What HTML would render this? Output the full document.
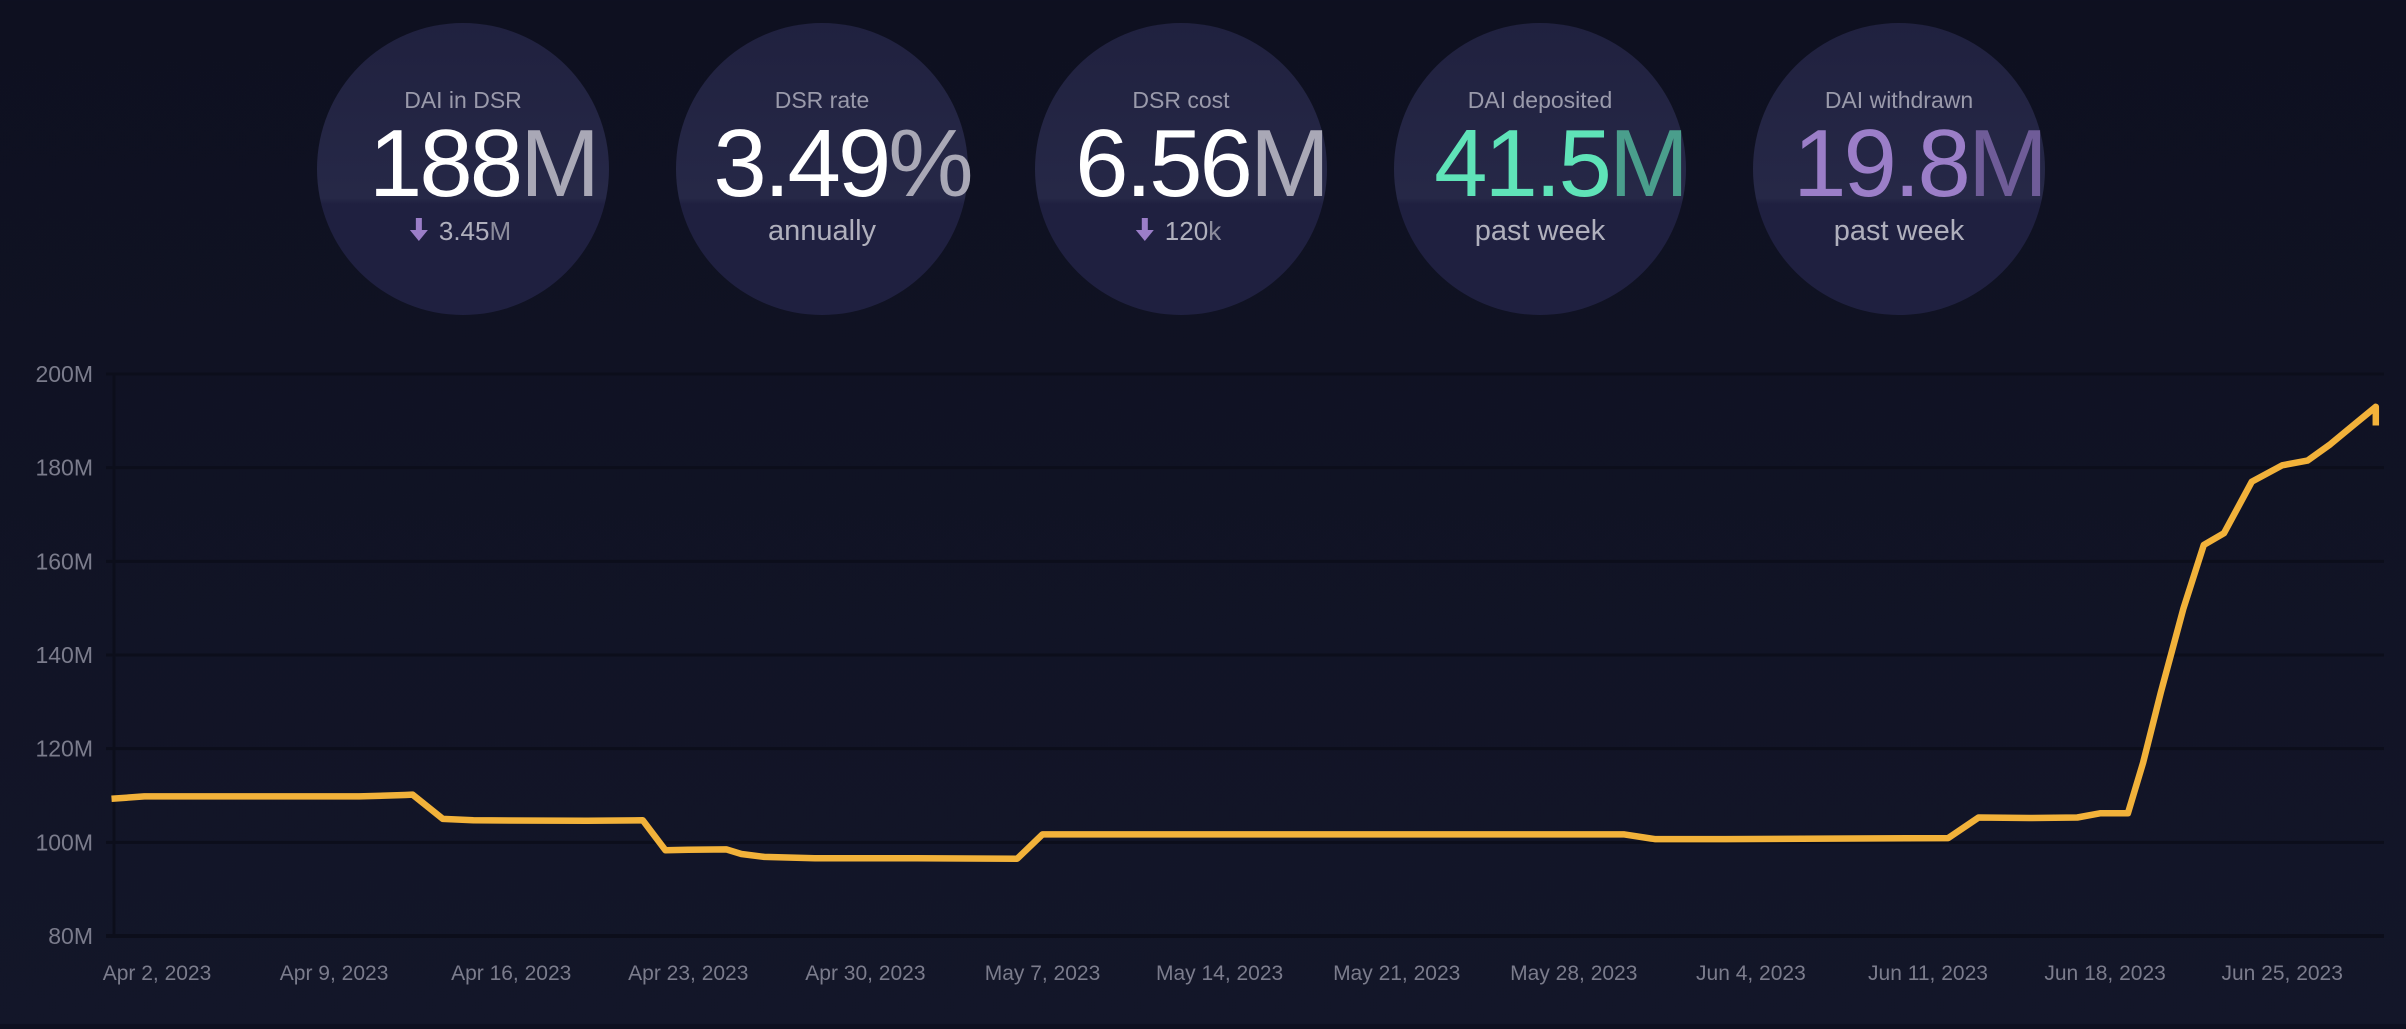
<!DOCTYPE html>
<html><head><meta charset="utf-8">
<style>
html,body{margin:0;padding:0;}
body{width:2406px;height:1024px;overflow:hidden;background:linear-gradient(#0e1020,#131629);font-family:"Liberation Sans",sans-serif;}
</style></head>
<body>
<svg width="2406" height="1024" viewBox="0 0 2406 1024" xmlns="http://www.w3.org/2000/svg">
<defs>
<linearGradient id="cg" x1="0" y1="0" x2="0" y2="1">
<stop offset="0" stop-color="#20213f"/><stop offset="0.6" stop-color="#262847"/><stop offset="0.62" stop-color="#1f2040"/><stop offset="1" stop-color="#1f2040"/>
</linearGradient>
</defs>
<g id="stats"></g>
<g id="chart"></g>
</svg>
<script>
const statLabels=["DAI in DSR","DSR rate","DSR cost","DAI deposited","DAI withdrawn"];
const statValues=["188","3.49","6.56","41.5","19.8"];
const statUnits=["M","%","M","M","M"];
const statSubs=["3.45","annually","120","past week","past week"];
const statSubUnits=["M","","k","",""];
const statArrows=[true,false,true,false,false];
const statColors=["#ffffff","#ffffff","#ffffff","#5fe3b8","#9b7ec8"];
const statUnitColors=["#a9a8b6","#a9a8b6","#a9a8b6","#4a9e8c","#6f5c98"];

const yTicks=[80,100,120,140,160,180,200];
const yTickLabels=["80M","100M","120M","140M","160M","180M","200M"];
const xTickDays=[0,7,14,21,28,35,42,49,56,63,70,77,84];
const xTickLabels=["Apr 2, 2023","Apr 9, 2023","Apr 16, 2023","Apr 23, 2023","Apr 30, 2023","May 7, 2023","May 14, 2023","May 21, 2023","May 28, 2023","Jun 4, 2023","Jun 11, 2023","Jun 18, 2023","Jun 25, 2023"];
// days since Apr 2, 2023
const seriesDays=[-1.8,-0.5,3,6,8,9.8,10.1,11.3,12.5,17,19.2,20.1,21,22.5,23.1,24,26,30,34,35,40,50,58,59.2,62,66,70.8,72,74,75.9,76.8,77.9,78.5,79.2,80.1,80.9,81.7,82.8,84,85,85.9,86.8,87.7,87.7];
const seriesValues=[109.3,109.8,109.8,109.8,109.8,110.1,110.2,105,104.7,104.6,104.7,98.3,98.4,98.5,97.5,96.9,96.6,96.6,96.5,101.7,101.7,101.7,101.7,100.7,100.7,100.8,100.9,105.3,105.2,105.3,106.2,106.2,117,132,150,163.5,166,177,180.5,181.5,185,189,193,189];

const NS="http://www.w3.org/2000/svg";
function mk(t,a,p){const e=document.createElementNS(NS,t);for(const k in a)e.setAttribute(k,a[k]);p.appendChild(e);return e;}

const stats=document.getElementById('stats');
const cx=[463,822,1181,1540,1899];
for(let i=0;i<statLabels.length;i++){
  const g=mk('g',{},stats);
  
  
  const c=mk('circle',{cx:cx[i],cy:169,r:146,fill:'url(#cg)'},g);
  
  
  const l=mk('text',{x:cx[i],y:108,'text-anchor':'middle','font-size':23,fill:'#9a9aab'},g);
  l.textContent=statLabels[i];
  
  
  const v=mk('text',{x:cx[i]+20,y:196,'text-anchor':'middle','font-size':96,fill:statColors[i],'letter-spacing':'-3'},g);
  
  
  const s1=mk('tspan',{},v);s1.textContent=statValues[i];
  const s2=mk('tspan',{fill:statUnitColors[i]},v);s2.textContent=statUnits[i];
  const sub=mk('text',{x:cx[i]+(statArrows[i]?12:0),y:240,'text-anchor':'middle','font-size':statArrows[i]?26:29,fill:'#b0b0bd'},g);
  
  
  const t1=mk('tspan',{},sub);t1.textContent=statSubs[i];
  if(statSubUnits[i]){const t2=mk('tspan',{fill:'#8c8c9c'},sub);t2.textContent=statSubUnits[i];}
  if(statArrows[i]){
    const bb=sub.getBBox();
    const ax=bb.x-20;
    const a=mk('path',{d:`M${ax-3},${218} h6 v12 h6 l-9,11 l-9,-11 h6 z`,fill:'#9b7ec8'},g);
    
    
  }
}

const chart=document.getElementById('chart');
const L=114,R=2384,T=374,B=936;
const x0=157,pxPerDay=25.3;
function xs(d){return x0+d*pxPerDay;}
function ys(v){return B-(v-80)/(200-80)*(B-T);}
for(let i=0;i<yTicks.length;i++){
  const y=ys(yTicks[i]);
  const gl=mk('line',{x1:L-8,x2:R,y1:y,y2:y,stroke:'#0c0e1b','stroke-width':i==0?4:3},chart);
  
  
  const tl=mk('text',{x:93,y:y+8,'text-anchor':'end','font-size':23,fill:'#7b7c8c'},chart);
  tl.textContent=yTickLabels[i];
  
  
}
const ax=mk('line',{x1:L,x2:L,y1:T,y2:B,stroke:'#0c0e1b','stroke-width':3},chart);


for(let i=0;i<xTickDays.length;i++){
  const t=mk('text',{x:xs(xTickDays[i]),y:980,'text-anchor':'middle','font-size':21,fill:'#7b7c8c'},chart);
  t.textContent=xTickLabels[i];
  
  
}
let d='';
for(let i=0;i<seriesDays.length;i++){d+=(i?'L':'M')+xs(seriesDays[i]).toFixed(1)+','+ys(seriesValues[i]).toFixed(1);}
const p=mk('path',{d:d,fill:'none',stroke:'#f2b23a','stroke-width':6.5,'stroke-linejoin':'round'},chart);


</script>
</body></html>
